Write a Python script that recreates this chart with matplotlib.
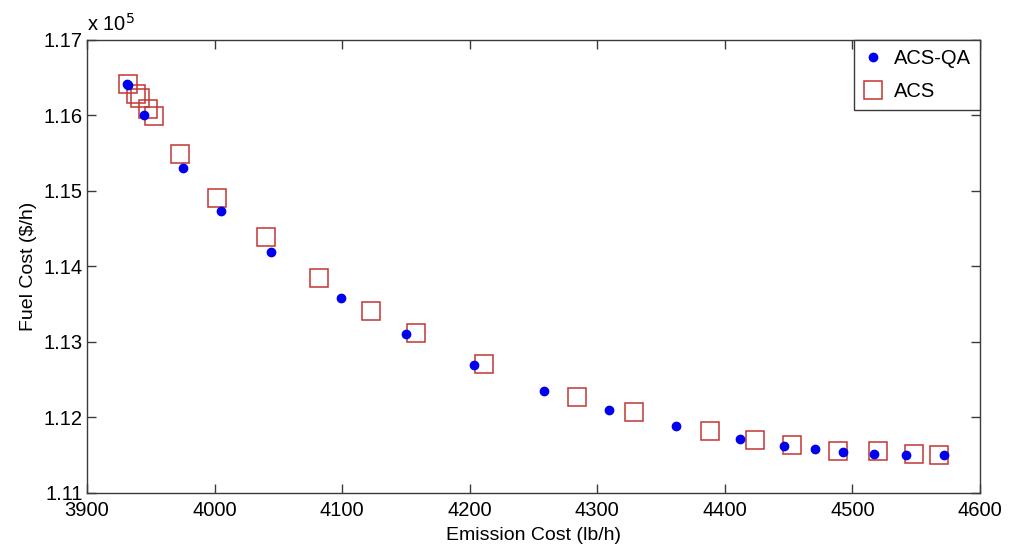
import matplotlib
matplotlib.use("Agg")
import matplotlib.pyplot as plt
from matplotlib.ticker import FuncFormatter, MultipleLocator

plt.rcParams['font.family'] = ['Liberation Sans', 'DejaVu Sans']

# Pareto front: emission cost (lb/h) vs fuel cost ($/h)
acs_qa_emission = [3931, 3932.5, 3945, 3975, 4005, 4044, 4099, 4150, 4203,
                   4258, 4309, 4362, 4412, 4446, 4471, 4493, 4517, 4542, 4572]
acs_qa_fuel = [116420, 116400, 116010, 115300, 114735, 114188, 113579, 113110,
               112695, 112355, 112100, 111883, 111715, 111623, 111579, 111547,
               111520, 111503, 111500]

acs_emission = [3932, 3938.6, 3941.3, 3947.6, 3952.5, 3973, 4002, 4040, 4082,
                4123, 4158, 4211, 4284, 4329, 4388, 4424, 4453, 4489, 4520,
                4548, 4568]
acs_fuel = [116421, 116285, 116236, 116086, 115997, 115490, 114911, 114391,
            113843, 113415, 113123, 112713, 112267, 112073, 111825, 111706,
            111640, 111560, 111550, 111520, 111503]

x_ticks = [3900, 4000, 4100, 4200, 4300, 4400, 4500, 4600]
y_scale = 1e5

fig = plt.figure(figsize=(10.10, 5.53), dpi=100)
ax = fig.add_axes([0.0861, 0.1085, 0.8842, 0.8192])

ax.plot(acs_qa_emission, acs_qa_fuel, linestyle='none', marker='o',
        markersize=6, color='#0000ee', markeredgecolor='#0000ee',
        label='ACS-QA', zorder=3)
ax.plot(acs_emission, acs_fuel, linestyle='none', marker='s',
        markersize=12.5, markerfacecolor='none', markeredgecolor='#c23634',
        markeredgewidth=1.1, label='ACS', zorder=2)

ax.set_xlim(3900, 4600)
ax.set_ylim(111000, 117000)
ax.set_xticks(x_ticks)
ax.yaxis.set_major_locator(MultipleLocator(1000))
ax.yaxis.set_major_formatter(FuncFormatter(lambda v, p: f"{v / y_scale:.2f}"))

for side in ax.spines.values():
    side.set_color('#3a3a3a')
    side.set_linewidth(1.0)
ax.tick_params(direction='in', top=True, right=True, length=6.5, width=1.0,
               color='#3a3a3a', labelsize=14.5)
ax.tick_params(axis='x', pad=6)
ax.tick_params(axis='y', pad=3)

ax.text(0.0, 1.012, r'x 10$^{5}$', transform=ax.transAxes, fontsize=14.5,
        ha='left', va='bottom')

ax.set_xlabel('Emission Cost (lb/h)', fontsize=14, labelpad=5)
ax.set_ylabel('Fuel Cost ($/h)', fontsize=14, labelpad=5)

leg = ax.legend(loc='upper right', borderaxespad=0, fancybox=False,
                edgecolor='#3a3a3a', framealpha=1, fontsize=14.5,
                handlelength=1.0, handletextpad=0.55, borderpad=0.45,
                labelspacing=0.7)
leg.get_frame().set_linewidth(1.0)

fig.savefig('out.png', dpi=100)
